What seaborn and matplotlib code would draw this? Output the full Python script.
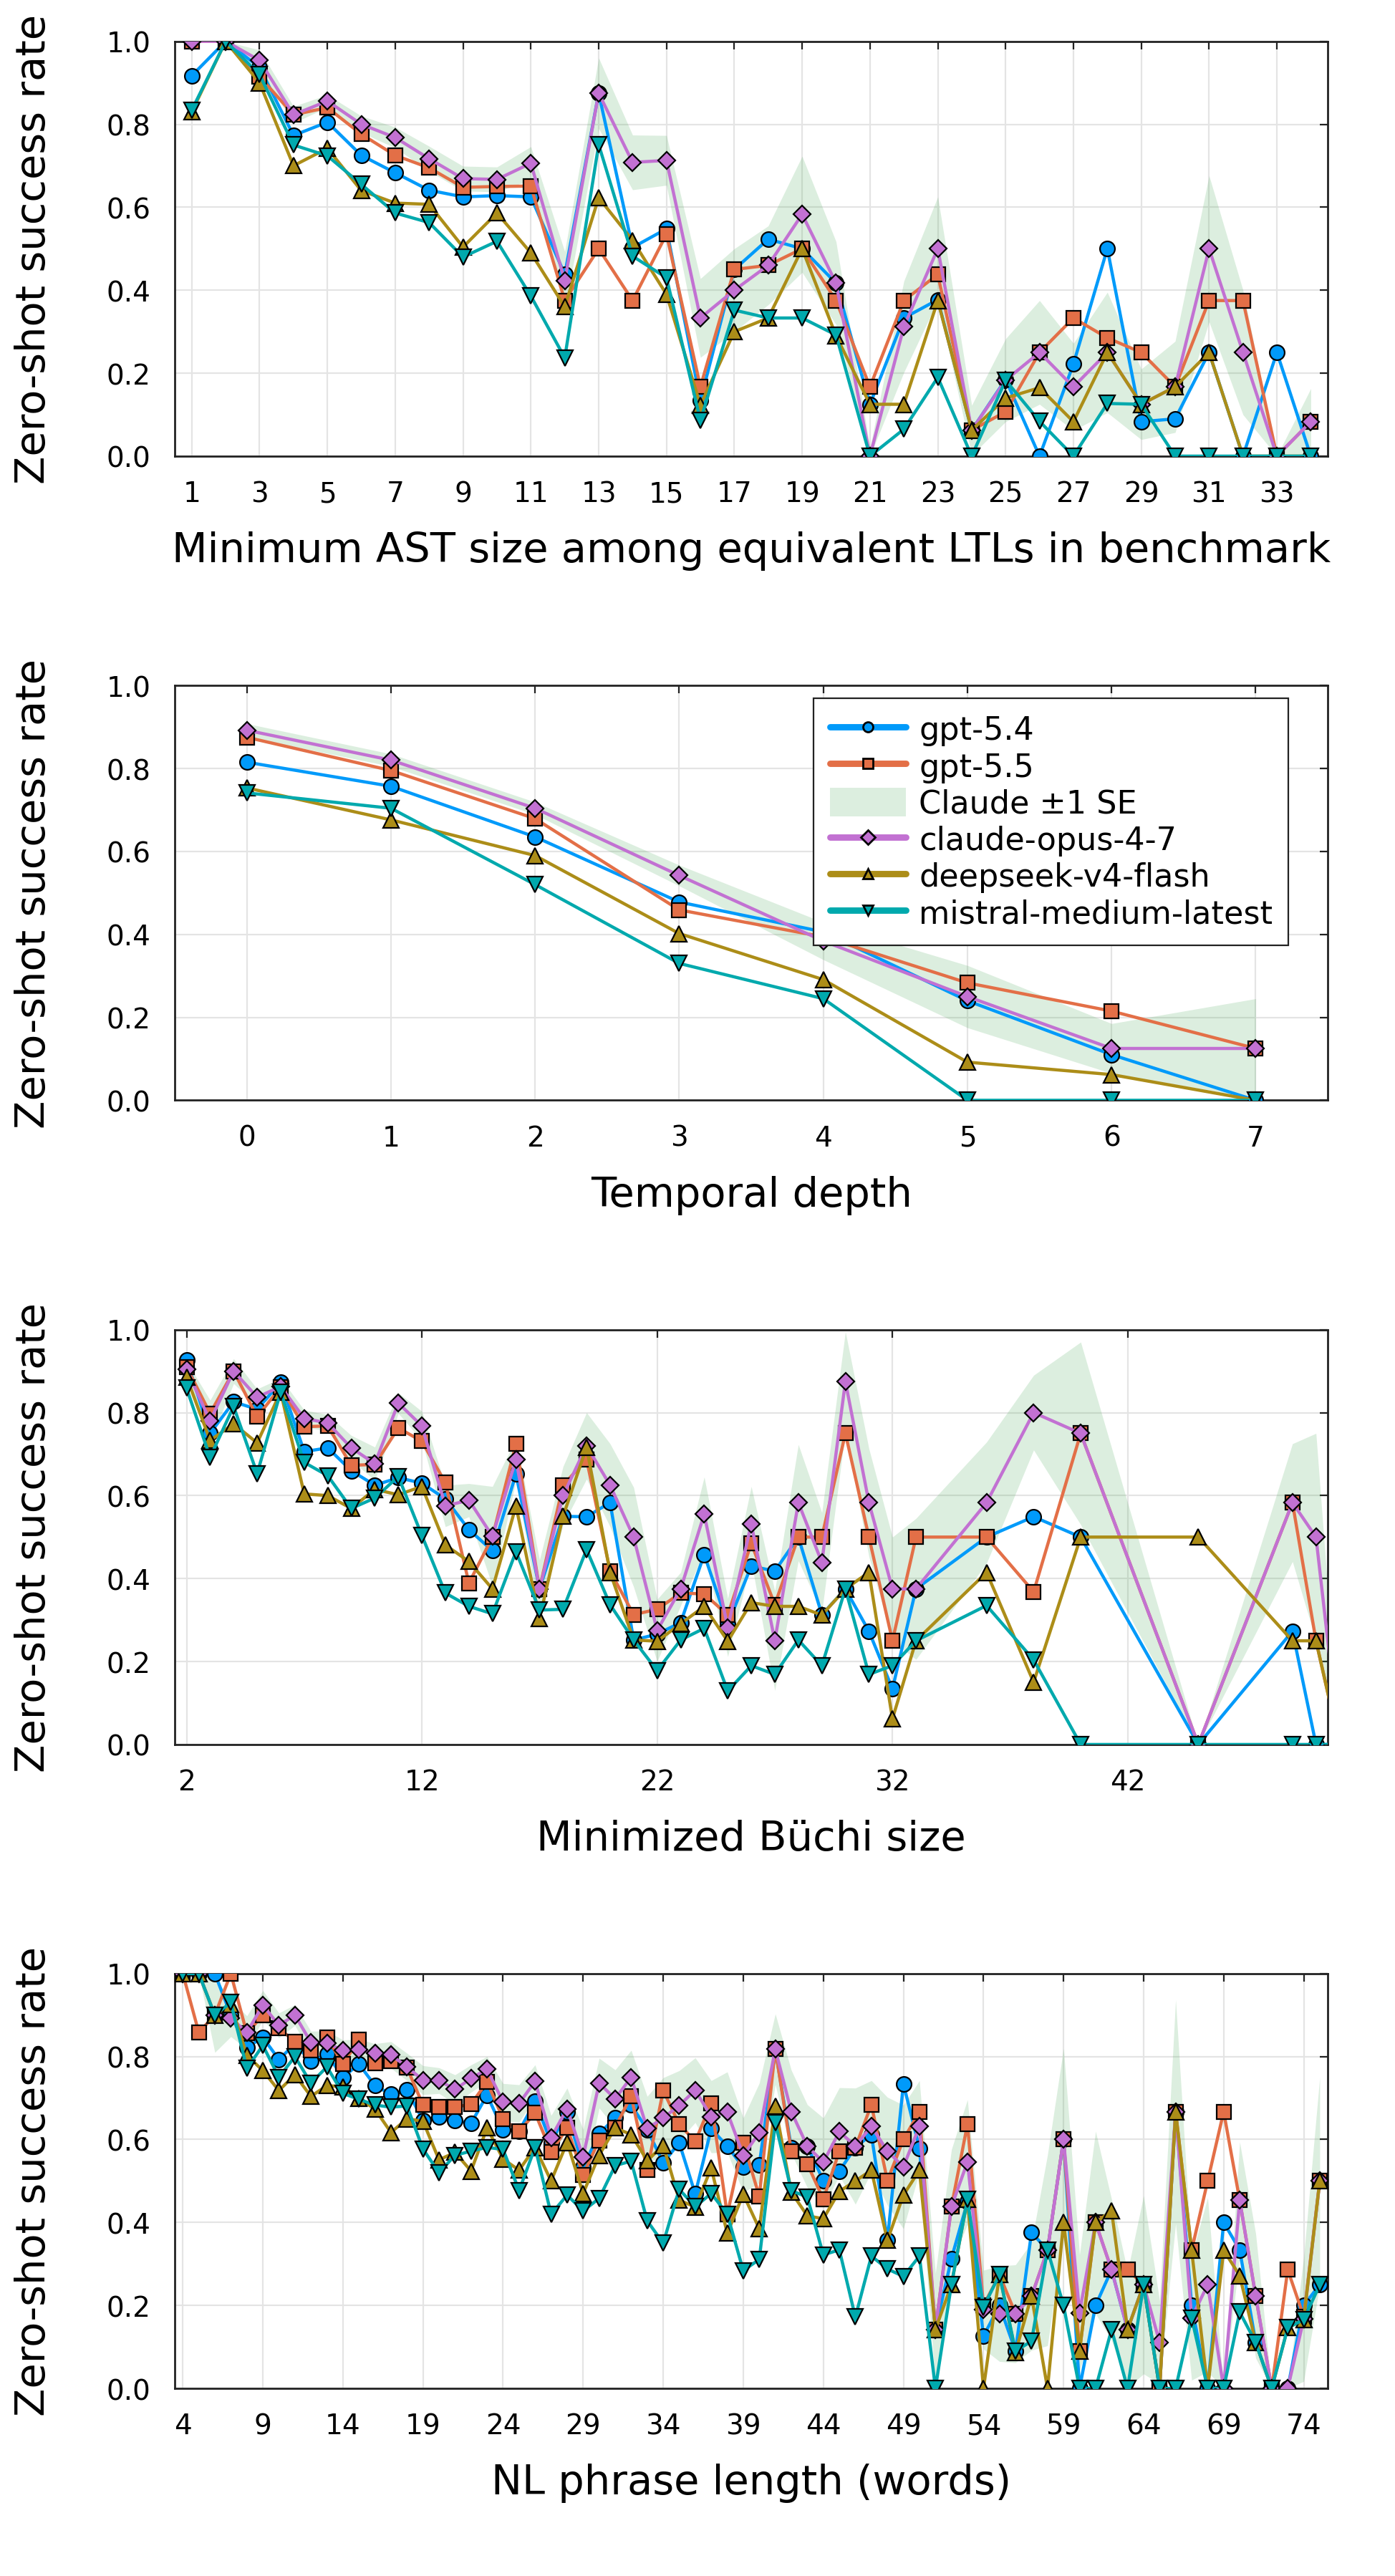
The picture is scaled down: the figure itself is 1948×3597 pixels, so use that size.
import matplotlib
matplotlib.use("Agg")
import matplotlib.pyplot as plt
import seaborn as sns
from matplotlib.lines import Line2D
from matplotlib.patches import Patch

# ---- panel 1: minimum AST size ----
ast_x = list(range(1, 35))
gpt54_ast = [0.917, 1.0, 0.937, 0.773, 0.805, 0.725, 0.683, 0.641, 0.625, 0.628,
             0.625, 0.438, 0.875, 0.503, 0.548, 0.134, 0.45, 0.523, 0.5, 0.417,
             0.125, 0.333, 0.377, 0.0625, 0.185, 0.0, 0.222, 0.5, 0.083, 0.09,
             0.25, 0.0, 0.25, 0.0]
gpt55_ast = [1.0, 1.0, 0.915, 0.823, 0.84, 0.776, 0.725, 0.695, 0.648, 0.65,
             0.651, 0.375, 0.5, 0.375, 0.535, 0.167, 0.45, 0.46, 0.5, 0.375,
             0.167, 0.375, 0.438, 0.0625, 0.107, 0.25, 0.333, 0.285, 0.25, 0.167,
             0.375, 0.375, 0.0, 0.083]
claude_ast = [1.0, 1.0, 0.954, 0.823, 0.856, 0.8, 0.768, 0.717, 0.669, 0.667,
              0.706, 0.423, 0.875, 0.708, 0.713, 0.333, 0.4, 0.46, 0.583, 0.417,
              0.0, 0.312, 0.5, 0.0625, 0.183, 0.25, 0.167, 0.25, 0.125, 0.167,
              0.5, 0.25, 0.0, 0.083]
deepseek_ast = [0.83, 1.0, 0.9, 0.7, 0.742, 0.64, 0.61, 0.607, 0.504, 0.586,
                0.49, 0.36, 0.623, 0.52, 0.39, 0.123, 0.3, 0.333, 0.5, 0.29,
                0.125, 0.125, 0.375, 0.0625, 0.14, 0.165, 0.083, 0.25, 0.125, 0.167,
                0.25, 0.0, 0.0, 0.0]
mistral_ast = [0.834, 1.0, 0.92, 0.75, 0.724, 0.655, 0.586, 0.563, 0.48, 0.518,
               0.386, 0.237, 0.751, 0.482, 0.43, 0.086, 0.352, 0.333, 0.333, 0.292,
               0.0, 0.065, 0.19, 0.0, 0.183, 0.084, 0.0, 0.127, 0.125, 0.0,
               0.0, 0.0, 0.0, 0.0]
claude_se_ast = [0.0, 0.0, 0.025, 0.02, 0.015, 0.02, 0.025, 0.03, 0.03, 0.03,
                 0.04, 0.07, 0.085, 0.066, 0.06, 0.095, 0.1, 0.095, 0.14, 0.1,
                 0.02, 0.11, 0.125, 0.06, 0.1, 0.125, 0.105, 0.145, 0.085, 0.11,
                 0.176, 0.15, 0.0, 0.08]

# ---- panel 2: temporal depth ----
depth_x = list(range(0, 8))
gpt54_depth = [0.815, 0.757, 0.635, 0.478, 0.406, 0.24, 0.11, 0.0]
gpt55_depth = [0.875, 0.795, 0.679, 0.459, 0.394, 0.283, 0.215, 0.125]
claude_depth = [0.892, 0.82, 0.704, 0.542, 0.384, 0.25, 0.125, 0.125]
deepseek_depth = [0.753, 0.676, 0.59, 0.402, 0.291, 0.092, 0.062, 0.0]
mistral_depth = [0.741, 0.704, 0.52, 0.33, 0.245, 0.0, 0.0, 0.0]
claude_se_depth = [0.016, 0.015, 0.015, 0.025, 0.045, 0.075, 0.06, 0.12]

# ---- panel 3: minimized Buchi size ----
buchi_x = list(range(2, 34)) + [36, 38, 40, 45, 49, 50, 51]
gpt54_buchi = [0.927, 0.75, 0.826, 0.808, 0.873, 0.706, 0.715, 0.66, 0.625, 0.643,
               0.63, 0.592, 0.518, 0.467, 0.652, 0.375, 0.55, 0.549, 0.583, 0.252,
               0.266, 0.294, 0.458, 0.29, 0.43, 0.418, 0.5, 0.313, 0.375, 0.273,
               0.134, 0.375, 0.5, 0.549, 0.5, 0.0, 0.273, 0.0, 0.0]
gpt55_buchi = [0.91, 0.798, 0.9, 0.79, 0.861, 0.766, 0.768, 0.673, 0.675, 0.763,
               0.731, 0.631, 0.389, 0.5, 0.725, 0.375, 0.625, 0.687, 0.418, 0.313,
               0.326, 0.365, 0.363, 0.312, 0.485, 0.337, 0.5, 0.5, 0.75, 0.5,
               0.25, 0.5, 0.5, 0.368, 0.75, 0.0, 0.583, 0.25, 0.0]
claude_buchi = [0.904, 0.78, 0.9, 0.837, 0.863, 0.786, 0.775, 0.715, 0.677, 0.823,
                0.768, 0.575, 0.589, 0.502, 0.687, 0.375, 0.6, 0.72, 0.625, 0.5,
                0.275, 0.375, 0.555, 0.282, 0.532, 0.25, 0.583, 0.439, 0.875, 0.583,
                0.375, 0.375, 0.583, 0.8, 0.75, 0.0, 0.583, 0.5, 0.0]
deepseek_buchi = [0.886, 0.733, 0.773, 0.727, 0.85, 0.604, 0.6, 0.569, 0.615, 0.602,
                  0.622, 0.481, 0.441, 0.375, 0.575, 0.303, 0.55, 0.717, 0.415, 0.252,
                  0.249, 0.291, 0.333, 0.249, 0.342, 0.333, 0.333, 0.312, 0.375, 0.415,
                  0.062, 0.25, 0.415, 0.15, 0.5, 0.5, 0.25, 0.25, 0.0]
mistral_buchi = [0.859, 0.692, 0.815, 0.653, 0.85, 0.68, 0.648, 0.569, 0.594, 0.646,
                 0.504, 0.365, 0.333, 0.315, 0.465, 0.324, 0.326, 0.47, 0.337, 0.252,
                 0.178, 0.252, 0.28, 0.129, 0.19, 0.169, 0.252, 0.19, 0.375, 0.169,
                 0.19, 0.25, 0.335, 0.204, 0.0, 0.0, 0.0, 0.0, 0.0]
claude_se_buchi = [0.02, 0.05, 0.03, 0.02, 0.02, 0.02, 0.02, 0.03, 0.04, 0.025,
                   0.035, 0.05, 0.04, 0.12, 0.05, 0.07, 0.07, 0.08, 0.1, 0.12,
                   0.075, 0.04, 0.09, 0.07, 0.09, 0.12, 0.14, 0.12, 0.12, 0.13,
                   0.125, 0.17, 0.146, 0.09, 0.22, 0.0, 0.142, 0.25, 0.0]

# ---- panel 4: NL phrase length ----
nl_x = list(range(4, 76))
gpt54_nl = [1.0, 1.0, 1.0, 0.9, 0.822, 0.846, 0.793, 0.83, 0.789, 0.806,
            0.75, 0.782, 0.73, 0.709, 0.72, 0.646, 0.655, 0.646, 0.639, 0.707,
            0.623, 0.62, 0.692, 0.593, 0.666, 0.534, 0.614, 0.652, 0.683, 0.624,
            0.544, 0.592, 0.469, 0.626, 0.584, 0.533, 0.539, 0.818, 0.58, 0.584,
            0.501, 0.524, 0.581, 0.612, 0.357, 0.734, 0.579, 0.142, 0.313, 0.45,
            0.126, 0.2, 0.09, 0.376, 0.333, 0.6, 0.0, 0.2, 0.286, 0.142,
            0.25, 0.0, 0.667, 0.2, 0.0, 0.4, 0.334, 0.111, 0.0, 0.0,
            0.2, 0.25]
gpt55_nl = [1.0, 0.858, 0.9, 1.0, 0.856, 0.9, 0.868, 0.836, 0.815, 0.846,
            0.782, 0.84, 0.784, 0.789, 0.773, 0.683, 0.678, 0.678, 0.685, 0.739,
            0.65, 0.619, 0.664, 0.57, 0.628, 0.515, 0.598, 0.629, 0.705, 0.526,
            0.718, 0.637, 0.595, 0.688, 0.419, 0.593, 0.463, 0.818, 0.572, 0.541,
            0.456, 0.572, 0.581, 0.684, 0.501, 0.6, 0.667, 0.142, 0.438, 0.637,
            0.2, 0.274, 0.18, 0.222, 0.333, 0.6, 0.09, 0.4, 0.286, 0.286,
            0.25, 0.0, 0.667, 0.333, 0.5, 0.667, 0.454, 0.222, 0.0, 0.286,
            0.173, 0.5]
claude_nl = [1.0, 1.0, 0.9, 0.893, 0.858, 0.924, 0.875, 0.9, 0.834, 0.832,
             0.815, 0.817, 0.808, 0.804, 0.775, 0.743, 0.742, 0.721, 0.747, 0.77,
             0.69, 0.687, 0.74, 0.605, 0.674, 0.558, 0.736, 0.698, 0.75, 0.626,
             0.652, 0.682, 0.719, 0.655, 0.666, 0.562, 0.616, 0.818, 0.667, 0.584,
             0.545, 0.619, 0.584, 0.632, 0.572, 0.534, 0.632, 0.142, 0.438, 0.546,
             0.19, 0.18, 0.18, 0.222, 0.333, 0.6, 0.182, 0.4, 0.286, 0.142,
             0.25, 0.111, 0.667, 0.17, 0.25, 0.0, 0.454, 0.223, 0.0, 0.0,
             0.167, 0.5]
deepseek_nl = [1.0, 1.0, 0.9, 0.926, 0.803, 0.766, 0.718, 0.756, 0.704, 0.73,
               0.727, 0.7, 0.673, 0.617, 0.65, 0.644, 0.551, 0.569, 0.524, 0.628,
               0.553, 0.526, 0.581, 0.5, 0.593, 0.47, 0.562, 0.628, 0.612, 0.549,
               0.586, 0.454, 0.437, 0.531, 0.374, 0.468, 0.385, 0.68, 0.473, 0.416,
               0.409, 0.475, 0.5, 0.526, 0.357, 0.466, 0.526, 0.142, 0.25, 0.456,
               0.0, 0.274, 0.087, 0.223, 0.0, 0.4, 0.09, 0.4, 0.428, 0.142,
               0.25, 0.0, 0.667, 0.333, 0.0, 0.333, 0.272, 0.111, 0.0, 0.146,
               0.166, 0.5]
mistral_nl = [1.0, 1.0, 0.9, 0.93, 0.771, 0.827, 0.75, 0.8, 0.736, 0.775,
              0.711, 0.697, 0.683, 0.678, 0.681, 0.577, 0.52, 0.562, 0.572, 0.581,
              0.576, 0.477, 0.581, 0.42, 0.466, 0.428, 0.458, 0.537, 0.548, 0.404,
              0.35, 0.48, 0.438, 0.47, 0.42, 0.284, 0.311, 0.64, 0.477, 0.461,
              0.322, 0.334, 0.172, 0.319, 0.288, 0.27, 0.319, 0.0, 0.251, 0.456,
              0.196, 0.274, 0.09, 0.114, 0.334, 0.2, 0.0, 0.0, 0.142, 0.0,
              0.25, 0.0, 0.0, 0.17, 0.0, 0.0, 0.184, 0.111, 0.0, 0.146,
              0.166, 0.25]
claude_se_nl = [0.0, 0.0, 0.09, 0.045, 0.04, 0.035, 0.03, 0.025, 0.027, 0.03,
                0.025, 0.025, 0.023, 0.032, 0.033, 0.035, 0.031, 0.035, 0.033, 0.03,
                0.045, 0.045, 0.04, 0.053, 0.05, 0.066, 0.06, 0.07, 0.065, 0.078,
                0.097, 0.084, 0.078, 0.087, 0.097, 0.09, 0.12, 0.085, 0.1, 0.1,
                0.107, 0.106, 0.14, 0.11, 0.13, 0.149, 0.11, 0.135, 0.138, 0.15,
                0.095, 0.115, 0.118, 0.13, 0.23, 0.22, 0.14, 0.22, 0.17, 0.14,
                0.215, 0.1, 0.27, 0.15, 0.21, 0.0, 0.14, 0.15, 0.0, 0.0,
                0.15, 0.25]

models = ["gpt-5.4", "gpt-5.5", "claude-opus-4-7", "deepseek-v4-flash", "mistral-medium-latest"]
colors = ["#009AFA", "#E36F47", "#C271D2", "#AC8D18", "#00A9AD"]
markers = ["o", "s", "D", "^", "v"]
msizes = [7.5, 7.2, 6.2, 7.8, 7.8]
band_color = "#3EA44E"

panels = [
    (ast_x, [gpt54_ast, gpt55_ast, claude_ast, deepseek_ast, mistral_ast], claude_se_ast,
     "Minimum AST size among equivalent LTLs in benchmark", (0.5, 34.5), list(range(1, 34, 2))),
    (depth_x, [gpt54_depth, gpt55_depth, claude_depth, deepseek_depth, mistral_depth], claude_se_depth,
     "Temporal depth", (-0.5, 7.5), list(range(0, 8))),
    (buchi_x, [gpt54_buchi, gpt55_buchi, claude_buchi, deepseek_buchi, mistral_buchi], claude_se_buchi,
     "Minimized Büchi size", (1.5, 50.5), [2, 12, 22, 32, 42]),
    (nl_x, [gpt54_nl, gpt55_nl, claude_nl, deepseek_nl, mistral_nl], claude_se_nl,
     "NL phrase length (words)", (3.5, 75.5), list(range(4, 76, 5))),
]

sns.set_style("white")
plt.rcParams["font.family"] = ["DejaVu Sans"]
plt.rcParams["text.color"] = "black"
plt.rcParams["axes.labelcolor"] = "black"

fig = plt.figure(figsize=(9.74, 17.99), dpi=200)
bottoms = [0.8227, 0.5727, 0.3227, 0.0728]

for i, (xs, series, se, xlabel, xlim, xticks) in enumerate(panels):
    ax = fig.add_axes([0.1253, bottoms[i], 0.8265, 0.161])
    claude = series[2]
    lo = [max(0.0, c - s) for c, s in zip(claude, se)]
    hi = [min(1.0, c + s) for c, s in zip(claude, se)]
    for k in range(5):
        if k == 2:
            ax.fill_between(xs, lo, hi, color=band_color, alpha=0.18, linewidth=0, zorder=2)
        sns.lineplot(x=xs, y=series[k], ax=ax, color=colors[k], marker=markers[k],
                     markersize=msizes[k], markeredgecolor="black", markeredgewidth=0.8,
                     linewidth=1.6, estimator=None, sort=False, legend=False, zorder=3 + k)
    ax.set_xlim(*xlim)
    ax.set_ylim(0, 1)
    ax.set_xticks(xticks)
    ax.set_yticks([0.0, 0.2, 0.4, 0.6, 0.8, 1.0])
    ax.set_yticklabels(["0.0", "0.2", "0.4", "0.6", "0.8", "1.0"])
    ax.grid(True, color="#e4e4e4", linewidth=0.8)
    ax.set_axisbelow(True)
    for sp in ax.spines.values():
        sp.set_color("#222222")
        sp.set_linewidth(1.0)
    ax.tick_params(axis="both", direction="in", length=4, width=0.8, labelsize=14,
                   top=True, right=True, pad=12, colors="#222222", labelcolor="black")
    ax.set_xlabel(xlabel, fontsize=20.7, color="black")
    ax.set_ylabel("Zero-shot success rate", fontsize=20.7, color="black")
    ax.xaxis.set_label_coords(0.5, -0.18)
    ax.yaxis.set_label_coords(-0.105, 0.5)

    if i == 1:
        handles = []
        for k in range(5):
            if k == 2:
                handles.append(Patch(facecolor=band_color, alpha=0.18, edgecolor="none"))
            handles.append(Line2D([], [], color=colors[k], marker=markers[k], markersize=5,
                                  markeredgecolor="black", linewidth=3.2))
        labels = ["gpt-5.4", "gpt-5.5", "Claude \u00b11 SE", "claude-opus-4-7",
                  "deepseek-v4-flash", "mistral-medium-latest"]
        leg = ax.legend(handles, labels, loc="upper right", bbox_to_anchor=(0.966, 0.969),
                        borderaxespad=0.0, fontsize=16, frameon=True, fancybox=False,
                        framealpha=1, edgecolor="#222222", handlelength=2.4,
                        handleheight=1.0, labelspacing=0.16, borderpad=0.5,
                        handletextpad=0.4)
        leg.get_frame().set_linewidth(0.8)

fig.savefig("out.png", dpi=200, facecolor="white")
